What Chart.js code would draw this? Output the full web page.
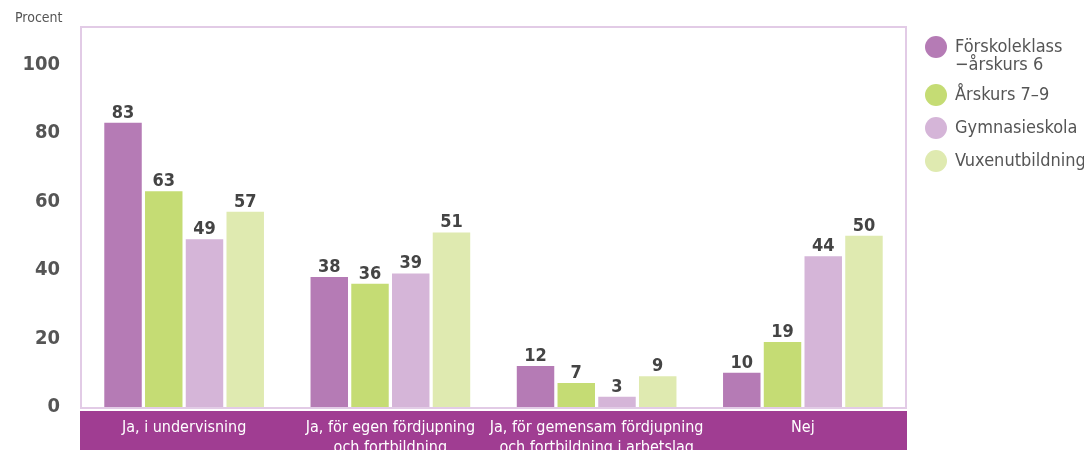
<!DOCTYPE html>
<html>
<head>
<meta charset="utf-8">
<script src="https://cdn.jsdelivr.net/npm/chart.js@4/dist/chart.umd.min.js"></script>
<style>
  html, body { margin: 0; padding: 0; background: #fff; }
  #wrap { width: 1084px; height: 450px; position: relative; }
</style>
</head>
<body>
<div id="wrap"><canvas id="chart" width="1084" height="450"></canvas></div>
<script>
const categories = [
  ['Ja, i undervisning'],
  ['Ja, för egen fördjupning', 'och fortbildning'],
  ['Ja, för gemensam fördjupning', 'och fortbildning i arbetslag'],
  ['Nej']
];
const seriesNames = [
  ['Förskoleklass', '\u2212årskurs 6'],
  ['Årskurs 7\u20139'],
  ['Gymnasieskola'],
  ['Vuxenutbildning']
];
const forskoleklass = [83, 38, 12, 10];
const arskurs79 = [63, 36, 7, 19];
const gymnasieskola = [49, 39, 3, 44];
const vuxenutbildning = [57, 51, 9, 50];
const yTicks = [0, 20, 40, 60, 80, 100];

const colors = ['#b57bb5', '#c5dc74', '#d5b5d8', '#dfeab0'];
const condensed = '"Liberation Sans Narrow", "DejaVu Sans Condensed", "Roboto Condensed", sans-serif';

const frame = {
  id: 'frame',
  beforeDraw(chart) {
    const { ctx, chartArea: a } = chart;
    ctx.save();
    ctx.strokeStyle = '#e2cbe6';
    ctx.lineWidth = 2;
    ctx.strokeRect(a.left, a.top, a.right - a.left, a.bottom - a.top + 1);
    ctx.restore();
  },
  afterDraw(chart) {
    const { ctx, chartArea: a } = chart;
    const x = chart.scales.x;
    ctx.save();
    // category band
    ctx.fillStyle = '#a03d92';
    ctx.fillRect(a.left - 1, a.bottom + 4, a.right - a.left + 2, chart.height - a.bottom - 4);
    ctx.fillStyle = '#ffffff';
    ctx.font = '16px ' + condensed;
    ctx.textAlign = 'center';
    ctx.textBaseline = 'middle';
    categories.forEach((lines, i) => {
      const cx = x.getPixelForValue(i);
      lines.forEach((t, j) => ctx.fillText(t, cx, a.bottom + 21 + j * 20));
    });

    // value labels
    ctx.fillStyle = '#444';
    ctx.font = 'bold 18px ' + condensed;
    ctx.textBaseline = 'alphabetic';
    chart.data.datasets.forEach((ds, di) => {
      chart.getDatasetMeta(di).data.forEach((bar, i) => {
        ctx.fillText(String(ds.data[i]), bar.x, bar.y - 5);
      });
    });

    // y title
    ctx.fillStyle = '#555';
    ctx.font = '14px ' + condensed;
    ctx.textAlign = 'left';
    ctx.fillText('Procent', 15, 22);

    // legend
    let ly = 47;
    chart.data.datasets.forEach((ds, di) => {
      ctx.beginPath();
      ctx.fillStyle = ds.backgroundColor;
      ctx.arc(936, ly, 11, 0, Math.PI * 2);
      ctx.fill();
      ctx.fillStyle = '#555';
      ctx.font = '18px ' + condensed;
      ctx.textBaseline = 'middle';
      seriesNames[di].forEach((t, j) => ctx.fillText(t, 955, ly + j * 18));
      ly += seriesNames[di].length > 1 ? 48 : 33;
    });
    ctx.restore();
  }
};

const series = [forskoleklass, arskurs79, gymnasieskola, vuxenutbildning];

const chart = new Chart(document.getElementById('chart'), {
  type: 'bar',
  data: {
    labels: categories.map(c => c.join(' ')),
    datasets: series.map((d, i) => ({
      label: seriesNames[i].join(' '),
      data: d,
      backgroundColor: colors[i],
      categoryPercentage: 0.79,
      barPercentage: 0.92
    }))
  },
  options: {
    responsive: false,
    animation: false,
    layout: { padding: { top: 27, right: 178, bottom: 43, left: 0 } },
    plugins: { legend: { display: false }, tooltip: { enabled: false } },
    scales: {
      x: {
        display: false
      },
      y: {
        min: 0,
        max: 111,
        afterFit(scale) {
          scale.width = 81;
          scale.paddingTop = 0;
          scale.paddingBottom = 0;
        },
        afterBuildTicks(scale) { scale.ticks = yTicks.map(v => ({ value: v })); },
        grid: { display: false, drawTicks: false },
        border: { display: false },
        ticks: {
          padding: 21,
          color: '#555',
          font: { family: condensed, size: 20, weight: 'bold' }
        }
      }
    }
  },
  plugins: [frame]
});
</script>
</body>
</html>
